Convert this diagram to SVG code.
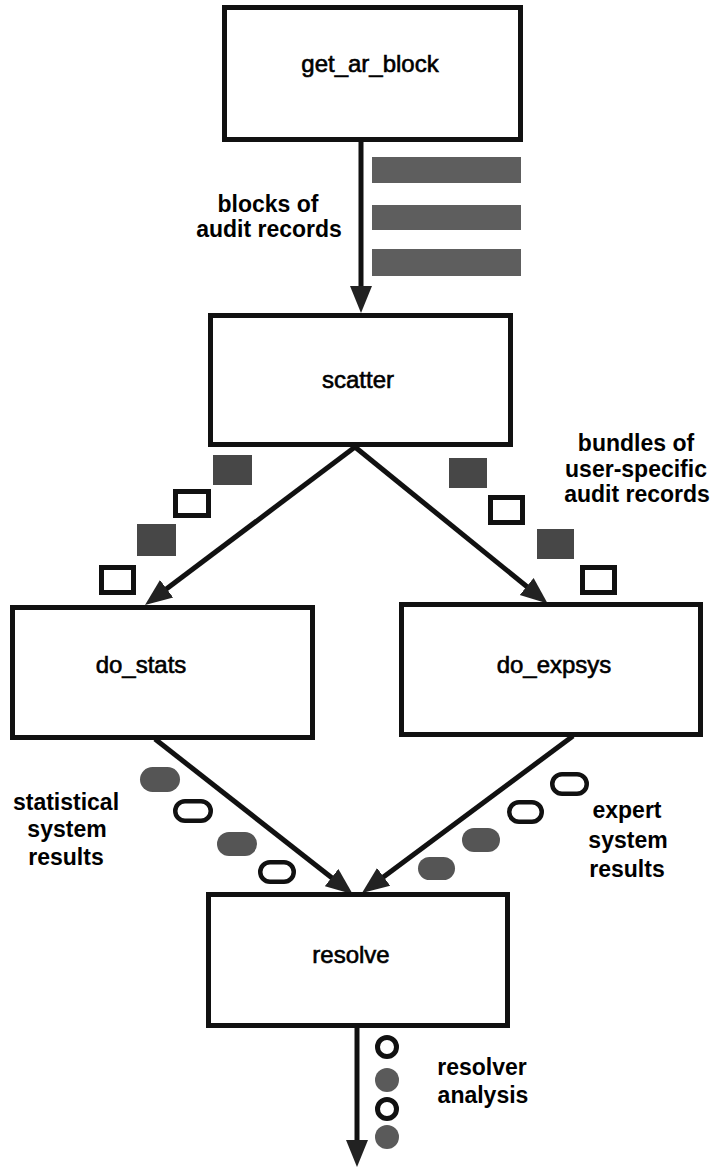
<svg xmlns="http://www.w3.org/2000/svg" width="712" height="1172" viewBox="0 0 712 1172">
<style>
.box{fill:#fff;stroke:#111;stroke-width:5}
.node{font-family:"Liberation Sans",Arial,sans-serif;font-size:24px;fill:#000;stroke:#000;stroke-width:0.6;text-anchor:middle}
.lbl{font-family:"Liberation Sans",Arial,sans-serif;font-size:23px;font-weight:bold;fill:#000;text-anchor:middle}
.edge{fill:none;stroke:#111;stroke-width:5}
.bar{fill:#5e5e5e}
.sq{fill:#474747}
.osq{fill:#fff;stroke:#111;stroke-width:5}
.ov{fill:#555}
.oov{fill:#fff;stroke:#111;stroke-width:4.5}
.dot{fill:#5a5a5a}
.odot{fill:#fff;stroke:#111;stroke-width:5}
</style>
<defs>
<marker id="ah" markerUnits="userSpaceOnUse" markerWidth="28" markerHeight="24" viewBox="0 0 28 24" refX="12" refY="12" orient="auto">
<path d="M0,1 L27,12 L0,23 z" fill="#222"/>
</marker>
</defs>
<rect width="712" height="1172" fill="#fff"/>

<g id="connectors">
<line class="edge" x1="361" y1="142" x2="361" y2="298" marker-end="url(#ah)"/>
<line class="edge" x1="355" y1="447" x2="157" y2="596" marker-end="url(#ah)"/>
<line class="edge" x1="355" y1="447" x2="536" y2="594" marker-end="url(#ah)"/>
<line class="edge" x1="155" y1="739" x2="341" y2="885" marker-end="url(#ah)"/>
<line class="edge" x1="573" y1="736" x2="374" y2="884" marker-end="url(#ah)"/>
<line class="edge" x1="357" y1="1028" x2="357" y2="1152" marker-end="url(#ah)"/>
</g>

<g id="get_ar_block">
<rect class="box" x="224.5" y="7.5" width="296" height="132"/>
<text class="node" x="370" y="72">get_ar_block</text>
</g>
<g id="scatter">
<rect class="box" x="210.5" y="315.5" width="300" height="129"/>
<text class="node" x="358" y="388">scatter</text>
</g>
<g id="do_stats">
<rect class="box" x="12.5" y="607.5" width="300" height="130"/>
<text class="node" x="141" y="673">do_stats</text>
</g>
<g id="do_expsys">
<rect class="box" x="401.5" y="604.5" width="299" height="130"/>
<text class="node" x="554" y="673">do_expsys</text>
</g>
<g id="resolve">
<rect class="box" x="208.5" y="894.5" width="299" height="131"/>
<text class="node" x="351" y="963">resolve</text>
</g>

<g id="label-blocks">
<text class="lbl" x="268" y="212">blocks of</text>
<text class="lbl" x="269" y="237">audit records</text>
<rect class="bar" x="372" y="157" width="149" height="26"/>
<rect class="bar" x="372" y="205" width="149" height="25"/>
<rect class="bar" x="372" y="249" width="149" height="27"/>
</g>

<g id="label-bundles">
<text class="lbl" x="636" y="451">bundles of</text>
<text class="lbl" x="636" y="477">user-specific</text>
<text class="lbl" x="637" y="502">audit records</text>
<rect class="sq" x="213" y="455" width="39" height="30"/>
<rect class="osq" x="175.5" y="491.5" width="33" height="24"/>
<rect class="sq" x="137" y="524" width="39" height="32"/>
<rect class="osq" x="101.5" y="567.5" width="32" height="25"/>
<rect class="sq" x="449" y="458" width="38" height="30"/>
<rect class="osq" x="490.5" y="497.5" width="32" height="25"/>
<rect class="sq" x="537" y="529" width="37" height="30"/>
<rect class="osq" x="582.5" y="567.5" width="32" height="25"/>
</g>

<g id="label-statistical">
<text class="lbl" x="66" y="810">statistical</text>
<text class="lbl" x="67" y="837">system</text>
<text class="lbl" x="66" y="865">results</text>
<rect class="ov" x="140" y="767" width="40" height="25" rx="12.5"/>
<rect class="oov" x="175.25" y="801.25" width="35.5" height="19.5" rx="9.75"/>
<rect class="ov" x="217" y="832" width="40" height="24" rx="12"/>
<rect class="oov" x="260.25" y="862.25" width="33.5" height="19.5" rx="9.75"/>
</g>

<g id="label-expert">
<text class="lbl" x="627" y="818">expert</text>
<text class="lbl" x="628" y="848">system</text>
<text class="lbl" x="627" y="877">results</text>
<rect class="oov" x="552.25" y="774.25" width="34.5" height="19.5" rx="9.75"/>
<rect class="oov" x="509.25" y="802.25" width="32.5" height="19.5" rx="9.75"/>
<rect class="ov" x="462" y="828" width="38" height="24" rx="12"/>
<rect class="ov" x="418" y="857" width="37" height="23" rx="11.5"/>
</g>

<g id="label-resolver">
<text class="lbl" x="482" y="1075">resolver</text>
<text class="lbl" x="483" y="1103">analysis</text>
<circle class="odot" cx="387" cy="1047" r="9.5"/>
<circle class="dot" cx="387" cy="1080" r="12"/>
<circle class="odot" cx="387" cy="1109" r="9.5"/>
<circle class="dot" cx="387" cy="1137" r="12"/>
</g>
</svg>
